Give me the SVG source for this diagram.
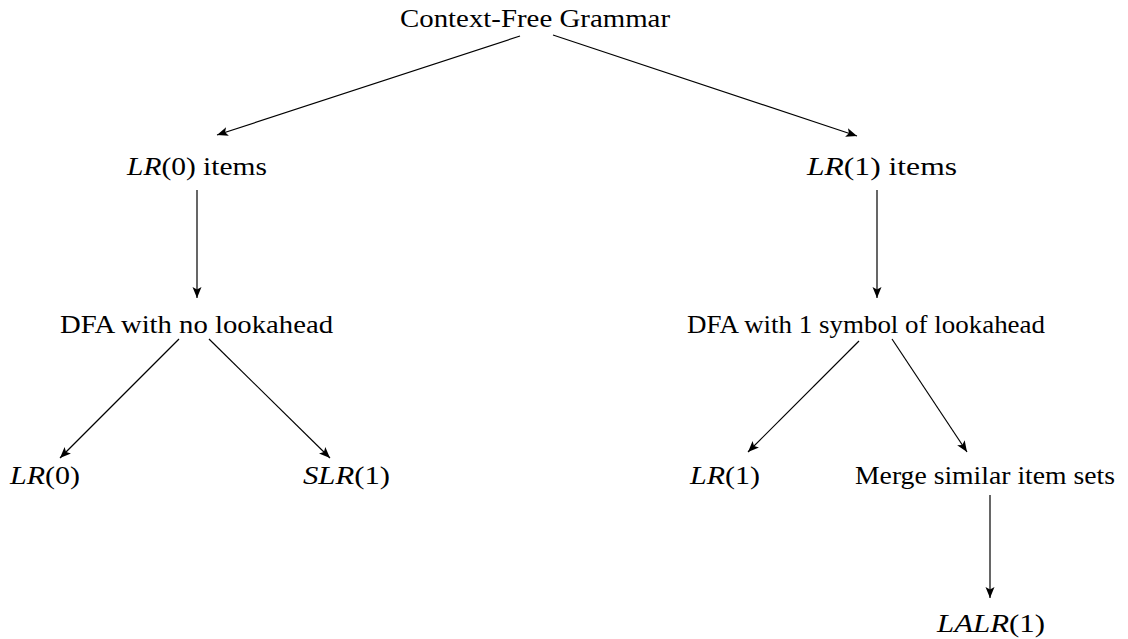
<svg xmlns="http://www.w3.org/2000/svg" width="1128" height="639" viewBox="0 0 1128 639">
<style>
text{font-family:"Liberation Serif","DejaVu Serif",serif;font-size:25px;fill:#000}
.m{font-style:italic}
.c{stroke:#000;stroke-width:1.2;fill:none;marker-end:url(#ah)}
</style>
<defs>
<marker id="ah" markerUnits="userSpaceOnUse" markerWidth="12" markerHeight="10" refX="11" refY="4.5" orient="auto">
<path d="M0,0 L11,4.5 L0,9 L2.5,4.5 Z" fill="#000"/>
</marker>
</defs>
<rect width="1128" height="639" fill="#fff"/>
<g id="connectors">
<line class="c" x1="520" y1="36" x2="217" y2="135"/>
<line class="c" x1="553" y1="35" x2="857" y2="136"/>
<line class="c" x1="197" y1="190" x2="197" y2="298"/>
<line class="c" x1="877" y1="190" x2="877" y2="298"/>
<line class="c" x1="179" y1="339" x2="60" y2="458"/>
<line class="c" x1="209" y1="339" x2="330" y2="458"/>
<line class="c" x1="859" y1="341" x2="748" y2="452"/>
<line class="c" x1="892" y1="339" x2="967" y2="452"/>
<line class="c" x1="990" y1="495" x2="990" y2="598"/>
</g>
<g id="cfg"><text x="400" y="27" textLength="270" lengthAdjust="spacingAndGlyphs">Context-Free Grammar</text></g>
<g id="lr0items"><text x="127" y="175" textLength="140" lengthAdjust="spacingAndGlyphs"><tspan class="m">LR</tspan>(0) items</text></g>
<g id="lr1items"><text x="807" y="175" textLength="150" lengthAdjust="spacingAndGlyphs"><tspan class="m">LR</tspan>(1) items</text></g>
<g id="dfa0"><text x="60" y="333" textLength="273" lengthAdjust="spacingAndGlyphs">DFA with no lookahead</text></g>
<g id="dfa1"><text x="687" y="333" textLength="358" lengthAdjust="spacingAndGlyphs">DFA with 1 symbol of lookahead</text></g>
<g id="lr0"><text x="10" y="484" textLength="70" lengthAdjust="spacingAndGlyphs"><tspan class="m">LR</tspan>(0)</text></g>
<g id="slr1"><text x="303" y="484" textLength="87" lengthAdjust="spacingAndGlyphs"><tspan class="m">SLR</tspan>(1)</text></g>
<g id="lr1"><text x="690" y="484" textLength="70" lengthAdjust="spacingAndGlyphs"><tspan class="m">LR</tspan>(1)</text></g>
<g id="merge"><text x="855" y="484" textLength="260" lengthAdjust="spacingAndGlyphs">Merge similar item sets</text></g>
<g id="lalr1"><text x="937" y="632" textLength="108" lengthAdjust="spacingAndGlyphs"><tspan class="m">LALR</tspan>(1)</text></g>
</svg>
